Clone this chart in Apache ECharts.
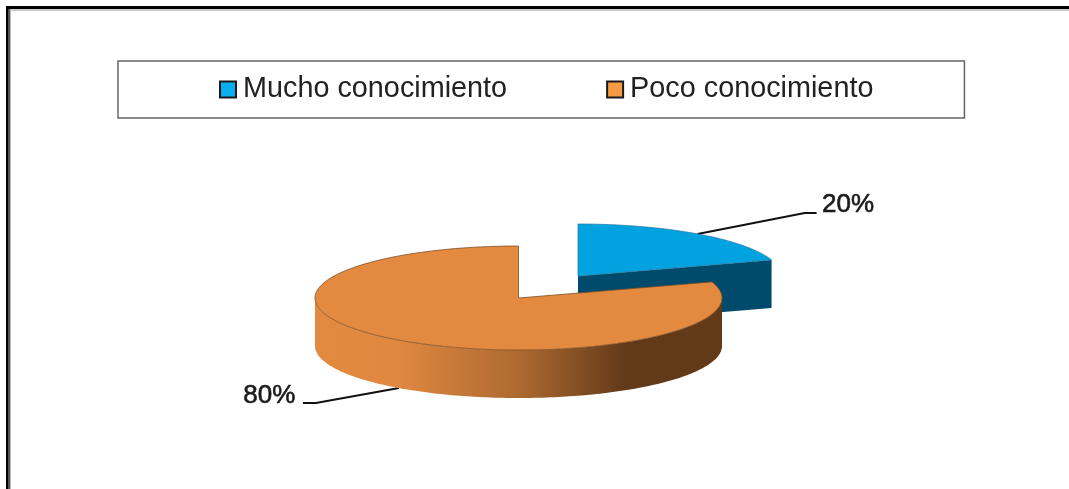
<!DOCTYPE html>
<html>
<head>
<meta charset="utf-8">
<style>html,body{margin:0;padding:0;background:#fff}#c{width:1069px;height:489px}</style>
<script src="https://cdn.jsdelivr.net/npm/echarts@6/dist/echarts.min.js"></script>
</head>
<body>
<div id="c"></div>
<script>
var categories = ['Mucho conocimiento', 'Poco conocimiento'];
var values = [20, 80];
var topColors = ['#00a3e0', '#e38a40'];
var swatchColors = ['#0aaeee', '#f79a46'];
var edgeColors = ['#2a7fa5', '#7d5128'];
var cutColors = ['#004a6b', null];
var wallStops = [
  {offset: 0, color: '#e38a40'},
  {offset: 0.2, color: '#e08840'},
  {offset: 0.5, color: '#ad6a30'},
  {offset: 0.76, color: '#633a19'},
  {offset: 1, color: '#623a18'}
];
var centers = [[578, 276], [518.5, 298]];
var leaders = [[[107, -21], [119, -21]], [[-83, 15], [-96, 15]]];
var labelOffsets = [[124.5, -31], [-103.5, 6]];
var labelAligns = ['left', 'right'];
var RX = 203.5, RY = 52, DEPTH = 48;

var total = values.reduce(function (a, b) { return a + b; }, 0);

function ell(c, deg, dy) {
  var r = deg * Math.PI / 180;
  return [c[0] + RX * Math.sin(r), c[1] - RY * Math.cos(r) + (dy || 0)];
}
function arc(c, a, b, dy) {
  var pts = [], n = 160;
  for (var i = 0; i <= n; i++) pts.push(ell(c, a + (b - a) * i / n, dy));
  return pts;
}

function makeRender(idx) {
  return function (params, api) {
    var before = 0;
    for (var k = 0; k < idx; k++) before += values[k];
    var v = api.value(0);
    var a = before / total * 360, b = (before + v) / total * 360, mid = (a + b) / 2;
    var c = centers[idx], children = [];
    var hasWall = mid > 90 && mid < 270;
    var anchor = ell(c, mid, hasWall ? DEPTH : 0);
    var lead = [anchor].concat(leaders[idx].map(function (o) { return [anchor[0] + o[0], anchor[1] + o[1]]; }));
    children.push({type: 'polyline', shape: {points: lead, smooth: 0},
      style: {stroke: '#111', lineWidth: 2, fill: null}});
    children.push({type: 'text', style: {
      text: v + '%', x: anchor[0] + labelOffsets[idx][0], y: anchor[1] + labelOffsets[idx][1] + 2,
      fill: '#1a1a1a', stroke: '#1a1a1a', lineWidth: 0.6,
      font: '26px "Liberation Sans"', align: labelAligns[idx], verticalAlign: 'middle'}});
    if (cutColors[idx]) {
      var p = ell(c, b);
      children.push({type: 'polygon', shape: {points: [c, p, [p[0], p[1] + DEPTH], [c[0], c[1] + DEPTH]]},
        style: {fill: cutColors[idx]}});
    }
    var wa = Math.max(a, 90), wb = Math.min(b, 270);
    if (wb > wa) {
      var wall = arc(c, wa, wb, 0).concat(arc(c, wa, wb, DEPTH).reverse());
      children.push({type: 'polygon', shape: {points: wall}, style: {
        fill: {type: 'linear', x: 0, y: 0, x2: 1, y2: 0, colorStops: wallStops}}});
    }
    children.push({type: 'polygon', shape: {points: [c].concat(arc(c, a, b, 0))},
      style: {fill: topColors[idx], stroke: edgeColors[idx], lineWidth: 0.8}});
    return {type: 'group', children: children};
  };
}

var chart = echarts.init(document.getElementById('c'), null, {renderer: 'canvas'});
chart.setOption({
  animation: false,
  backgroundColor: '#fff',
  legend: {
    left: 118, top: 61,
    padding: [14, 91, 14, 101],
    itemGap: 99, itemWidth: 16, itemHeight: 16,
    borderColor: '#666', borderWidth: 1.5,
    textStyle: {fontFamily: 'Liberation Sans', fontSize: 28.8, color: '#222', padding: [2, 0, 0, 2]},
    data: categories.map(function (n, i) {
      return {name: n, icon: 'rect', itemStyle: {color: swatchColors[i], borderColor: '#1a1a1a', borderWidth: 2}};
    })
  },
  graphic: [
    {type: 'rect', shape: {x: 6, y: 6, width: 1063, height: 3}, style: {fill: '#000'}},
    {type: 'rect', shape: {x: 9, y: 9, width: 1060, height: 2}, style: {fill: '#ccc'}},
    {type: 'rect', shape: {x: 6, y: 6, width: 2, height: 483}, style: {fill: '#000'}},
    {type: 'rect', shape: {x: 8, y: 9, width: 2, height: 480}, style: {fill: '#555'}},
    {type: 'rect', shape: {x: 10, y: 9, width: 1, height: 480}, style: {fill: '#bbb'}}
  ],
  series: categories.map(function (n, i) {
    return {
      type: 'custom', name: n, coordinateSystem: 'none',
      itemStyle: {color: swatchColors[i]},
      renderItem: makeRender(i),
      data: [[values[i]]],
      silent: true
    };
  })
});
</script>
</body>
</html>
